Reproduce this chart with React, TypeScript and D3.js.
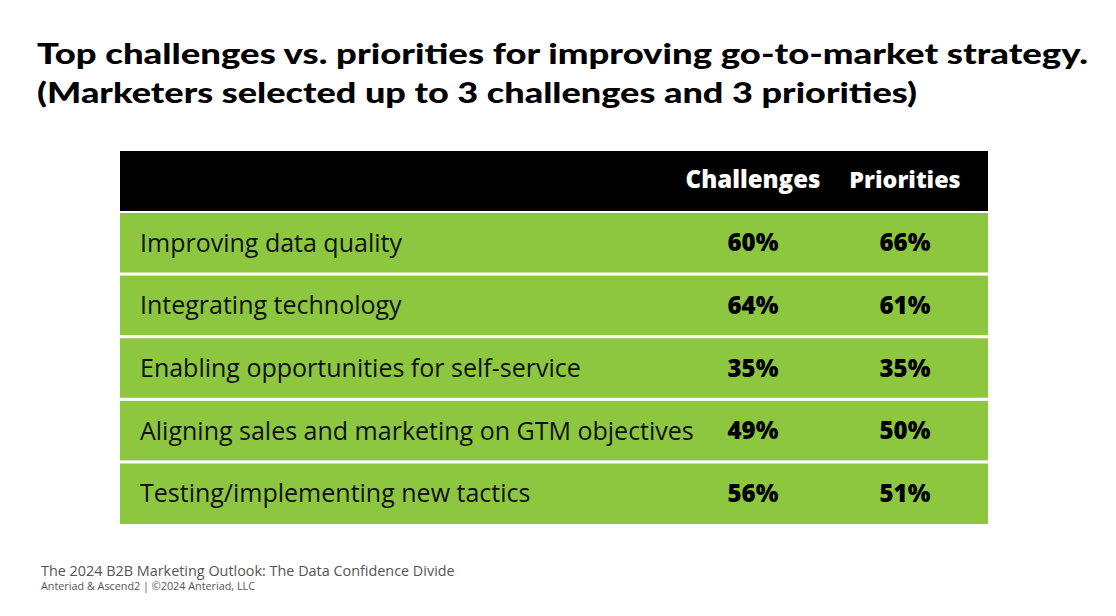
import React from "react";
import * as d3 from "d3";

const titleLines = [
  "Top challenges vs. priorities for improving go-to-market strategy.",
  "(Marketers selected up to 3 challenges and 3 priorities)",
];
const columns = ["Challenges", "Priorities"];
const categories = [
  "Improving data quality",
  "Integrating technology",
  "Enabling opportunities for self-service",
  "Aligning sales and marketing on GTM objectives",
  "Testing/implementing new tactics",
];
const challenges = [60, 64, 35, 49, 56];
const priorities = [66, 61, 35, 50, 51];
const footerLines = [
  "The 2024 B2B Marketing Outlook: The Data Confidence Divide",
  "Anteriad & Ascend2 | ©2024 Anteriad, LLC",
];

const W = 1116;
const H = 616;
const TFONT = "Lato, sans-serif";
const FONT = "'Open Sans', sans-serif";
const GREEN = "#8dc63f";

export default function App() {
  const left = 120;
  const right = 988;
  const y = d3.scaleBand<string>().domain(categories).range([213, 523]).paddingInner(0.05).paddingOuter(0);
  const x = d3.scalePoint<string>().domain(columns).range([753, 905]);
  const values = [challenges, priorities];
  return (
    <svg width={W} height={H} style={{ position: "absolute", left: 0, top: 0, background: "#fff" }}>
      {titleLines.map((t, i) => (
        <text key={i} x={37} y={64 + i * 39} fontFamily={TFONT} fontWeight={900} fontSize={29} fill="#000"
          textLength={i === 0 ? 1051 : 880} lengthAdjust="spacingAndGlyphs">
          {t}
        </text>
      ))}
      <rect x={left} y={151} width={right - left} height={60} fill="#000" />
      {columns.map((c) => (
        <text key={c} x={x(c)} y={188} textAnchor="middle" fontFamily={FONT} fontWeight={800} fontSize={c === "Challenges" ? 24 : 23.3} fill="#fff">
          {c}
        </text>
      ))}
      {categories.map((c, i) => {
        const y0 = y(c)!;
        const bh = y.bandwidth() + (i === categories.length - 1 ? 1 : 0);
        const cy = y0 + y.bandwidth() / 2;
        return (
          <g key={c}>
            <rect x={left} y={y0} width={right - left} height={bh} fill={GREEN} />
            <text x={140} y={cy} dy="0.36em" fontFamily={FONT} fontSize={25} fill="#111">
              {c}
            </text>
            {columns.map((col, j) => (
              <text key={col} x={x(col)} y={cy} dy="0.36em" textAnchor="middle" fontFamily={FONT} fontWeight={800} fontSize={24} fill="#000">
                {values[j][i]}%
              </text>
            ))}
          </g>
        );
      })}
      <text x={41} y={576} fontFamily={FONT} fontSize={14.4} fill="#555">{footerLines[0]}</text>
      <text x={41} y={590} fontFamily={FONT} fontSize={10.8} fill="#555">{footerLines[1]}</text>
    </svg>
  );
}
